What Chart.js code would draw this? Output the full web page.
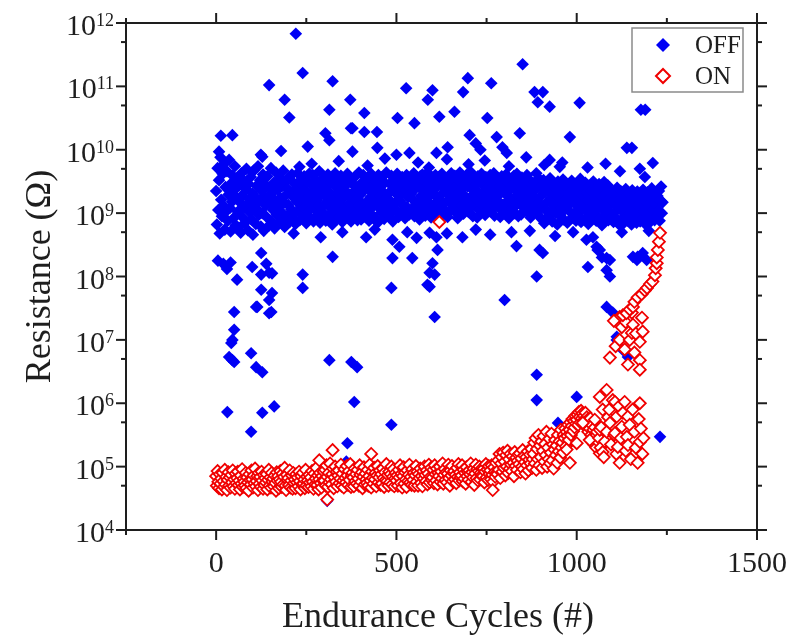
<!DOCTYPE html>
<html>
<head>
<meta charset="utf-8">
<title>Endurance</title>
<script src="https://cdn.jsdelivr.net/npm/chart.js@4.4.1/dist/chart.umd.min.js"></script>
<style>
  html, body { margin: 0; padding: 0; background: #fff; }
  canvas { display: block; }
</style>
</head>
<body>
<canvas id="chart" width="794" height="635"></canvas>
<script>
// OFF / ON resistance vs. cycle, stored as log10(R in ohm)
// band values are one reading every 2 cycles starting at cycle 0
const bandStep = 2;

const offLogR = [
  9.35,8.82,9.71,9.05,9.52,8.68,9.88,9.21,8.95,9.62,
  9.12,9.78,8.74,9.41,9.03,9.66,8.88,9.29,9.84,9.08,
  8.71,9.47,9.18,9.59,8.92,9.36,9.74,8.81,9.25,9.55,
  9.02,8.77,9.44,9.17,8.69,9.63,9.28,8.93,9.51,9.09,
  8.85,9.38,9.7,9.14,8.73,9.46,9.22,9.01,9.57,8.9,
  9.31,8.66,9.11,9.68,9.26,8.83,9.43,9.06,9.74,8.97,
  9.19,9.52,8.79,9.35,9.0,9.61,8.72,9.27,9.45,9.12,
  8.94,9.58,9.23,8.8,9.4,9.15,9.71,8.87,9.33,9.05,
  9.48,8.76,9.2,9.64,8.98,9.37,9.1,8.84,9.55,9.24,
  9.02,9.42,8.9,9.67,9.16,8.78,9.5,9.29,8.95,9.38,
  9.13,9.57,8.86,9.32,9.06,9.61,8.92,9.25,9.47,9.0,
  8.83,9.39,9.18,9.63,9.04,9.3,8.89,9.52,9.11,9.44,
  9.22,8.95,9.58,9.08,9.36,8.84,9.49,9.17,9.03,9.62,
  9.27,8.91,9.45,9.14,9.6,8.87,9.34,9.07,9.53,9.2,
  8.97,9.41,9.12,9.66,8.85,9.28,9.5,9.02,9.37,8.93,
  9.56,9.15,8.88,9.43,9.24,9.61,8.96,9.33,9.09,9.48,
  9.19,8.82,9.54,9.26,9.01,9.63,8.9,9.4,9.13,9.31,
  8.94,9.47,9.21,9.59,9.05,8.86,9.36,9.52,9.1,9.28,
  9.44,9.0,9.62,8.92,9.3,9.16,9.55,8.87,9.23,9.46,
  9.07,9.34,8.95,9.58,9.2,9.41,8.89,9.12,9.64,9.03,
  9.29,8.9,9.48,9.15,9.6,9.02,9.37,8.94,9.51,9.18,
  9.39,9.06,8.88,9.55,9.25,9.62,8.97,9.32,9.11,9.45,
  8.93,9.5,9.19,9.35,8.85,9.6,9.08,9.42,9.27,9.01,
  9.57,9.14,9.33,8.91,9.48,9.22,9.64,9.03,9.3,8.96,
  9.21,9.46,9.0,9.59,9.12,8.87,9.38,9.53,9.16,9.4,
  9.05,9.62,9.28,8.94,9.5,9.19,9.43,9.01,9.57,9.33,
  9.12,9.47,8.92,9.36,9.6,9.09,9.25,9.52,8.98,9.41,
  9.3,9.04,9.55,9.21,9.63,8.95,9.38,9.14,9.49,9.07,
  9.44,9.18,8.9,9.58,9.27,9.02,9.61,9.35,9.1,9.5,
  8.96,9.39,9.23,9.64,9.06,9.46,9.16,9.55,8.93,9.32,
  9.52,9.11,9.37,9.0,9.6,9.26,8.91,9.45,9.2,9.57,
  9.08,9.48,9.29,9.62,8.97,9.4,9.15,9.53,9.03,9.34,
  9.41,8.94,9.56,9.22,9.35,9.05,9.63,9.13,9.47,9.25,
  9.17,9.59,9.01,9.43,9.3,8.92,9.51,9.2,9.64,9.09,
  9.36,9.12,9.54,8.99,9.45,9.27,9.06,9.6,9.19,9.42,
  9.02,9.5,9.24,9.65,9.1,9.38,8.95,9.55,9.31,9.14,
  9.46,9.21,8.93,9.58,9.33,9.04,9.49,9.16,9.62,9.28,
  9.11,9.44,9.35,8.97,9.57,9.23,9.4,9.07,9.52,9.19,
  9.6,9.03,9.3,9.47,9.14,9.63,8.96,9.37,9.25,9.5,
  9.2,9.55,9.09,9.42,8.94,9.32,9.58,9.13,9.45,9.01,
  9.34,9.16,9.61,9.05,9.48,9.26,8.92,9.53,9.18,9.39,
  9.07,9.45,9.22,9.59,9.0,9.36,9.12,9.62,9.29,8.95,
  9.5,9.19,9.4,8.98,9.56,9.1,9.33,9.47,9.04,9.26,
  9.15,9.6,9.02,9.38,9.23,9.52,8.93,9.3,9.44,9.11,
  9.35,9.06,9.49,9.2,9.63,9.0,9.41,9.17,9.54,9.08,
  9.27,8.91,9.43,9.1,9.52,8.84,9.33,9.05,9.46,9.18,
  8.95,9.38,9.2,9.55,9.02,9.3,8.87,9.48,9.12,9.25,
  9.41,9.0,9.28,8.82,9.5,9.15,9.36,8.96,9.44,9.08,
  9.19,9.53,8.9,9.32,9.06,9.47,9.22,8.85,9.39,9.13,
  9.03,9.34,9.17,9.51,8.93,9.26,9.42,9.0,9.3,8.88,
  9.45,9.11,8.97,9.37,9.21,9.54,8.86,9.29,9.07,9.4,
  9.16,8.9,9.48,9.04,9.33,9.2,8.83,9.43,9.1,9.27,
  8.94,9.35,9.12,9.5,9.0,9.24,9.41,8.88,9.19,9.31,
  9.08,9.46,8.92,9.28,9.14,8.81,9.38,9.05,9.49,9.17,
  9.3,8.96,9.22,9.44,8.89,9.13,9.36,9.01,9.25,8.93,
  9.18,8.86,9.33,9.02,9.27,8.92,9.4,9.09,8.83,9.21,
  9.06,9.35,8.9,9.14,9.29,8.84,9.23,9.0,9.38,8.95,
  9.25,8.88,9.11,9.31,8.97,9.19,8.82,9.36,9.04,9.16,
  8.93,9.28,9.07,8.85,9.34,9.12,8.99,9.24,8.87,9.3,
  9.15,8.9,9.37,9.03,9.2,8.83,9.26,9.08,9.33,8.96,
  9.1,9.29,8.86,9.18,9.39,8.94,9.22,9.05,8.89,9.3,
  9.13,8.95,9.27,9.04,9.35,8.88,9.2,9.42,9.0,9.17
];

// OFF readings away from the main band: [cycle, log10 R]
const offScatter = [
  [221,11.83],[240,11.21],[147,11.02],[323,11.08],[190,10.79],[203,10.51],[372,10.79],[314,10.63],
  [374,10.34],[13,10.22],[45,10.23],[303,10.26],[314,10.15],[124,9.92],[180,9.98],[254,10.05],
  [378,9.97],[527,10.97],[600,10.94],[587,10.79],[698,11.13],[685,10.91],[763,11.05],[411,10.58],
  [503,10.5],[550,10.42],[619,10.52],[661,10.6],[752,10.5],[378,10.34],[411,10.28],[446,10.28],
  [447,10.03],[536,9.95],[500,9.92],[611,9.95],[642,10.04],[703,10.23],[778,10.2],[794,10.04],
  [850,11.35],[883,10.91],[906,10.91],[892,10.75],[925,10.68],[1008,10.74],[1178,10.63],[1190,10.63],
  [842,10.26],[981,10.2],[1139,10.03],[1153,10.03],[1211,9.79],[1189,9.57],[100,9.65],[231,9.73],
  [8,9.97],[128,9.89],[720,10.1],[733,10.0],[806,9.95],[925,9.84],[953,9.73],
  [265,9.78],[340,9.82],[420,9.75],[468,9.86],[560,9.8],[590,9.72],[640,9.85],[700,9.77],
  [745,9.83],[812,9.74],[860,9.88],[910,9.76],[960,9.8],[1030,9.72],[1080,9.78],[1120,9.66],[1175,9.7],
  [215,8.68],[290,8.62],[350,8.7],[440,8.74],[530,8.7],[640,8.68],[720,8.74],[760,8.66],
  [870,8.72],[940,8.64],[990,8.7],[1045,8.62],[1125,8.7],[1200,8.72],
  [5,8.25],[20,8.2],[40,8.22],[30,8.12],[58,7.95],[100,8.15],[125,8.37],[125,8.03],
  [125,7.79],[139,8.2],[155,8.05],[147,8.06],[153,7.44],[147,7.63],[114,7.52],[240,8.03],
  [240,7.82],[323,8.31],[486,7.82],[50,7.44],[111,7.52],[147,7.42],[155,7.74],[50,7.16],
  [45,7.0],[42,6.95],[36,6.73],[50,6.65],[45,6.68],[97,6.79],[111,6.57],[128,6.49],
  [31,5.86],[128,5.85],[161,5.95],[97,5.55],[314,6.68],[375,6.65],[391,6.57],[383,6.02],
  [364,5.37],[486,5.66],[308,4.46],[361,5.08],
  [416,8.62],[489,8.58],[508,8.47],[556,8.61],[489,8.29],[544,8.29],[592,8.69],[611,8.62],
  [614,8.42],[600,8.21],[606,8.03],[683,8.62],[833,8.48],[897,8.42],[906,8.37],[1031,8.15],
  [1083,8.1],[889,8.0],[800,7.63],[592,7.84],[1064,8.42],[1092,8.26],[1167,8.26],[1194,8.26],
  [606,7.36],[1083,7.52],[819,8.7],[1027,8.58],[1058,8.42],[1083,8.29],[1169,8.31],[1183,8.37],
  [586,7.87],[592,8.06],[1100,7.43],[1111,7.0],[1128,6.84],[1142,6.73],[889,6.45],[889,6.05],
  [1000,6.1],[948,5.69],[1231,5.47],[1055,8.47],[1070,8.3],[1092,8.0],[1156,8.31],[1111,7.05]
];

const onLogR = [
  4.85,4.7,4.93,4.76,4.66,4.88,4.73,4.81,4.64,4.9,
  4.77,4.68,4.95,4.72,4.84,4.63,4.79,4.91,4.7,4.83,
  4.67,4.87,4.75,4.94,4.69,4.8,4.65,4.89,4.74,4.82,
  4.92,4.71,4.78,4.64,4.86,4.73,4.96,4.68,4.81,4.76,
  4.7,4.9,4.66,4.83,4.75,4.62,4.88,4.79,4.72,4.94,
  4.8,4.67,4.86,4.74,4.97,4.69,4.77,4.85,4.63,4.9,
  4.73,4.84,4.68,4.92,4.78,4.65,4.87,4.71,4.82,4.75,
  4.88,4.64,4.79,4.95,4.7,4.83,4.67,4.9,4.76,4.81,
  4.69,4.86,4.74,4.62,4.91,4.78,4.85,4.66,4.8,4.93,
  4.76,4.68,4.89,4.72,4.84,4.98,4.7,4.63,4.87,4.79,
  4.82,4.71,4.94,4.67,4.78,4.86,4.65,4.9,4.74,4.8,
  4.66,4.88,4.75,4.83,4.69,4.92,4.77,4.64,4.85,4.72,
  4.9,4.73,4.8,4.66,4.95,4.7,4.84,4.78,4.68,4.87,
  4.75,4.83,4.69,4.93,4.76,4.65,4.89,4.72,4.81,4.98,
  4.71,4.86,4.64,4.8,4.9,4.74,4.67,4.85,4.78,4.92,
  4.78,4.95,4.7,5.02,4.84,4.68,4.9,4.75,5.05,4.8,
  4.72,4.88,4.97,4.66,4.83,5.0,4.76,4.92,4.69,4.86,
  4.94,4.74,4.81,5.03,4.7,4.89,4.78,4.67,4.96,4.82,
  4.75,5.01,4.86,4.71,4.93,4.79,5.04,4.68,4.85,4.9,
  4.83,4.69,4.97,4.77,4.88,4.73,4.95,4.81,4.7,5.02,
  4.87,4.76,4.91,4.66,4.84,4.99,4.72,4.89,4.8,4.74,
  4.95,4.7,4.85,5.03,4.78,4.67,4.92,4.82,4.73,4.98,
  4.8,4.9,4.69,4.86,5.01,4.75,4.83,4.94,4.71,4.88,
  4.73,4.97,4.82,4.68,4.91,4.79,5.04,4.77,4.87,4.7,
  4.92,4.75,4.88,5.0,4.72,4.84,4.96,4.69,4.81,4.9,
  4.78,4.86,4.7,4.95,4.83,5.02,4.74,4.89,4.67,4.85,
  4.99,4.73,4.91,4.8,4.68,4.94,4.77,4.87,5.03,4.75,
  4.84,4.71,4.96,4.79,4.9,4.7,4.86,5.01,4.76,4.92,
  4.7,4.88,4.82,4.97,4.74,4.85,4.69,4.93,4.81,5.0,
  4.87,4.77,4.94,4.72,4.89,5.03,4.75,4.84,4.98,4.79,
  4.83,4.95,4.74,5.02,4.88,4.78,4.97,4.72,4.9,4.85,
  5.0,4.76,4.92,4.81,5.05,4.73,4.87,4.96,4.79,4.91,
  4.75,4.89,5.03,4.82,4.7,4.94,4.86,5.01,4.77,4.9,
  4.93,4.8,4.87,4.74,4.98,4.84,5.04,4.78,4.91,4.83,
  4.86,5.02,4.77,4.95,4.81,4.9,4.73,4.99,4.85,4.92,
  4.79,4.94,4.88,5.05,4.76,4.91,4.83,4.97,4.71,4.89,
  5.03,4.82,4.96,4.78,4.93,5.0,4.8,4.9,4.86,4.98,
  4.85,4.97,4.75,4.92,5.04,4.83,4.95,4.79,5.01,4.88,
  4.94,4.8,5.02,4.87,4.76,4.99,4.91,4.84,5.06,4.9,
  4.88,5.1,4.95,5.2,4.82,5.05,5.15,4.92,5.22,4.98,
  5.08,4.86,5.18,5.0,5.25,4.9,5.12,4.97,5.2,5.03,
  4.93,5.16,5.06,4.85,5.23,5.01,5.14,4.95,5.09,5.19,
  5.04,5.21,4.91,5.13,5.0,5.26,4.96,5.17,5.07,4.89,
  5.15,5.02,5.24,4.94,5.11,5.19,5.05,5.28,4.98,5.12,
  5.2,5.38,5.05,5.45,4.95,5.28,5.12,5.5,5.02,5.33,
  5.15,5.4,4.98,5.25,5.48,5.08,5.36,5.18,5.55,5.0,
  5.3,5.12,5.44,5.05,5.22,5.52,5.1,5.35,4.97,5.27,
  5.42,5.18,5.33,5.06,5.5,5.24,5.4,5.14,5.58,5.3,
  5.38,5.22,5.5,5.45,5.6,5.32,5.55,5.48,5.66,5.42,
  5.58,5.7,5.5,5.64,5.75,5.56,5.72,5.62,5.8,5.68,
  5.74,5.82,5.66,5.86,5.78,5.7,5.88,5.76,5.84,5.72,
  5.8,5.68,5.85,5.62,5.78,5.74,5.55,5.7,5.6,5.76,
  5.5,5.66,5.42,5.58,5.35,5.62,5.48,5.3,5.55,5.4
];

// ON readings off the band, including the late rise toward the OFF level
const onScatter = [
  [619,8.86],[308,4.48],[323,5.26],[286,5.1],[430,5.2],[767,4.63],
  [981,5.06],[972,5.27],[1000,5.37],[1017,5.69],[1036,5.42],[1050,5.74],
  [1062,5.45],[1064,6.1],[1064,5.58],[1064,5.21],[1066,5.3],[1068,5.62],[1072,5.23],[1072,5.9],
  [1075,5.15],[1078,5.4],[1083,6.21],[1083,5.55],[1087,5.78],[1090,5.9],[1092,5.69],[1095,5.35],
  [1100,6.05],[1104,5.5],[1106,6.02],[1106,5.53],[1110,5.2],[1111,5.79],[1114,5.31],[1117,5.95],
  [1119,5.06],[1122,5.45],[1125,5.63],[1128,5.85],[1133,6.02],[1136,5.25],[1139,5.47],[1142,5.79],
  [1142,5.34],[1147,5.66],[1150,5.12],[1155,5.9],[1160,5.55],[1164,5.3],[1169,5.06],[1172,5.75],
  [1175,6.0],[1175,5.39],[1178,5.6],[1182,5.2],[1185,5.45],
  [1092,6.72],[1108,6.9],[1119,7.0],[1119,7.36],[1103,7.3],[1125,7.2],[1133,6.85],[1136,7.28],
  [1142,6.61],[1147,7.0],[1153,7.43],[1153,7.11],[1156,7.24],[1160,6.8],[1164,7.1],[1175,6.97],
  [1175,6.68],[1175,6.53],[1181,7.35],[1183,7.13],
  [1128,7.39],[1138,7.42],[1147,7.48],[1156,7.52],[1160,7.6],[1169,7.67],[1180,7.72],[1189,7.78],
  [1195,7.82],[1203,7.88],[1210,7.92],[1217,8.02],[1219,8.13],[1222,8.21],[1222,8.3],[1225,8.42],
  [1228,8.55],[1231,8.69]
];

const xTickValues = [-250, 0, 250, 500, 750, 1000, 1250, 1500];
const xLabelValues = [0, 500, 1000, 1500];
const yDecades = [4, 5, 6, 7, 8, 9, 10, 11, 12];

const toPoints = (band, scatter) =>
  band.map((v, i) => ({ x: i * bandStep, y: Math.pow(10, v) }))
    .concat(scatter.map(([c, v]) => ({ x: c, y: Math.pow(10, v) })));

const INK = '#1e1e1e';
const SERIF = '"Liberation Serif", "DejaVu Serif", serif';

function diamond(ctx, x, y, r) {
  ctx.beginPath();
  ctx.moveTo(x - r, y);
  ctx.lineTo(x, y - r);
  ctx.lineTo(x + r, y);
  ctx.lineTo(x, y + r);
  ctx.closePath();
}

// frame ticks, tick labels with superscript exponents, titles and the inset legend
const frame = {
  id: 'frame',
  beforeDraw(chart) {
    const ctx = chart.ctx;
    ctx.save();
    ctx.fillStyle = '#fff';
    ctx.fillRect(0, 0, chart.width, chart.height);
    ctx.restore();
  },
  afterDraw(chart) {
    const { ctx, chartArea: a } = chart;
    const x = chart.scales.x, y = chart.scales.y;
    ctx.save();
    ctx.strokeStyle = INK;
    ctx.lineWidth = 2;

    const seg = (x1, y1, x2, y2) => {
      ctx.beginPath(); ctx.moveTo(x1, y1); ctx.lineTo(x2, y2); ctx.stroke();
    };

    xTickValues.forEach(v => {
      const px = x.getPixelForValue(v);
      const len = v % 500 === 0 ? 10 : 5;
      seg(px, a.bottom, px, a.bottom + len);
      seg(px, a.top, px, a.top - len);
    });
    yDecades.forEach(n => {
      const py = y.getPixelForValue(Math.pow(10, n));
      seg(a.left, py, a.left - 10, py);
      seg(a.right, py, a.right + 10, py);
      if (n < 12) {
        const pm = y.getPixelForValue(5 * Math.pow(10, n));
        seg(a.left, pm, a.left - 5, pm);
        seg(a.right, pm, a.right + 5, pm);
      }
    });

    ctx.fillStyle = INK;
    ctx.font = '30px ' + SERIF;
    ctx.textAlign = 'center';
    ctx.textBaseline = 'alphabetic';
    xLabelValues.forEach(v => {
      ctx.fillText(String(v), x.getPixelForValue(v), 572);
    });

    yDecades.forEach(n => {
      const py = y.getPixelForValue(Math.pow(10, n));
      const exp = String(n);
      ctx.font = '18px ' + SERIF;
      ctx.textAlign = 'right';
      ctx.fillText(exp, 114, py + 3);
      const ew = ctx.measureText(exp).width;
      ctx.font = '30px ' + SERIF;
      ctx.fillText('10', 114 - ew, py + 12);
    });

    ctx.font = '36px ' + SERIF;
    ctx.textAlign = 'center';
    ctx.fillText('Endurance Cycles (#)', 438, 627);
    ctx.save();
    ctx.translate(50, (a.top + a.bottom) / 2);
    ctx.rotate(-Math.PI / 2);
    ctx.fillText('Resistance (\u03A9)', 0, 0);
    ctx.restore();

    // legend box
    ctx.strokeStyle = '#8a8a8a';
    ctx.lineWidth = 1.5;
    ctx.strokeRect(632, 28, 111, 64);
    ctx.font = '25px ' + SERIF;
    ctx.textAlign = 'left';
    ctx.textBaseline = 'middle';
    chart.data.datasets.forEach((ds, i) => {
      const cy = 45 + i * 31;
      diamond(ctx, 663, cy, 7);
      ctx.fillStyle = ds.backgroundColor;
      ctx.fill();
      if (ds.borderWidth) {
        ctx.strokeStyle = ds.borderColor;
        ctx.lineWidth = 2;
        ctx.stroke();
      }
      ctx.fillStyle = INK;
      ctx.fillText(ds.label, 695, cy + 1);
    });
    ctx.restore();
  }
};

const hidden = { display: false };
const border = { display: true, color: INK, width: 2 };

new Chart(document.getElementById('chart'), {
  type: 'scatter',
  data: {
    datasets: [
      {
        label: 'OFF',
        data: toPoints(offLogR, offScatter),
        pointStyle: 'rectRot',
        pointRadius: 6.3,
        backgroundColor: '#0000f5',
        borderColor: '#0000f5',
        borderWidth: 0,
        order: 1
      },
      {
        label: 'ON',
        data: toPoints(onLogR, onScatter),
        pointStyle: 'rectRot',
        pointRadius: 6,
        backgroundColor: '#ffffff',
        borderColor: '#f00000',
        borderWidth: 1.8,
        order: 0
      }
    ]
  },
  options: {
    responsive: false,
    animation: false,
    events: [],
    layout: { padding: 0 },
    plugins: { legend: hidden, tooltip: { enabled: false } },
    scales: {
      x: {
        type: 'linear', position: 'bottom', min: -250, max: 1500,
        grid: hidden, ticks: hidden, border,
        afterFit: s => { s.height = 105; }
      },
      xTop: {
        type: 'linear', position: 'top', min: -250, max: 1500,
        grid: hidden, ticks: hidden, border,
        afterFit: s => { s.height = 23; }
      },
      y: {
        type: 'logarithmic', position: 'left', min: 1e4, max: 1e12,
        grid: hidden, ticks: hidden, border,
        afterFit: s => { s.width = 126; }
      },
      yRight: {
        type: 'logarithmic', position: 'right', min: 1e4, max: 1e12,
        grid: hidden, ticks: hidden, border,
        afterFit: s => { s.width = 37; }
      }
    }
  },
  plugins: [frame]
});
</script>
</body>
</html>
